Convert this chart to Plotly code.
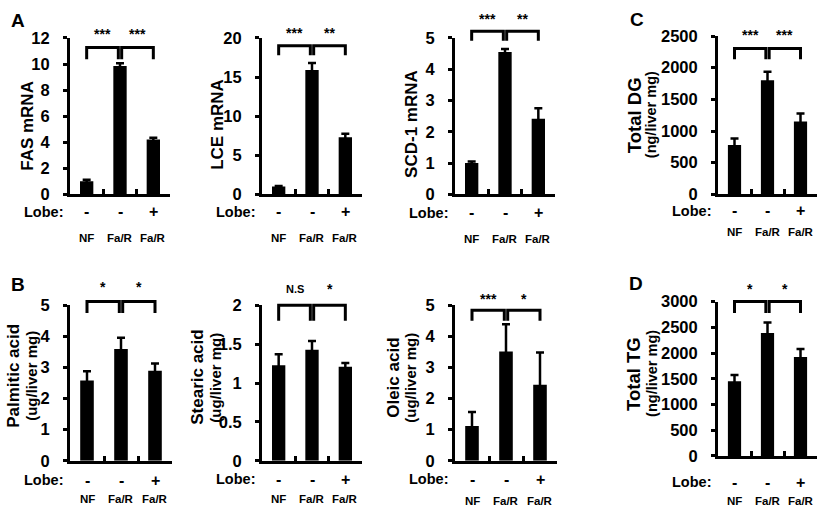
import plotly.graph_objects as go

# ------------------------------
# Data
# ------------------------------
GROUPS = ["NF", "Fa/R", "Fa/R"]
LOBE = ["-", "-", "+"]

FAS_MEAN = [1.0, 9.85, 4.2]
FAS_ERR = [0.12, 0.2, 0.15]
LCE_MEAN = [1.0, 15.9, 7.3]
LCE_ERR = [0.08, 0.9, 0.45]
SCD_MEAN = [1.0, 4.55, 2.42]
SCD_ERR = [0.05, 0.1, 0.33]
DG_MEAN = [780, 1800, 1150]
DG_ERR = [100, 135, 125]
PALM_MEAN = [2.58, 3.6, 2.9]
PALM_ERR = [0.3, 0.36, 0.23]
STEAR_MEAN = [1.23, 1.43, 1.21]
STEAR_ERR = [0.14, 0.11, 0.05]
OLEIC_MEAN = [1.12, 3.52, 2.45]
OLEIC_ERR = [0.45, 0.87, 1.03]
TG_MEAN = [1450, 2390, 1920]
TG_ERR = [125, 200, 160]

W, H = 822, 520
FONT = "Liberation Sans, Arial, sans-serif"

# panel: data, axis max, tick step, title lines (text, size, x px), stars, letter
# geometry in px: x0, x1, ytop, ybot, bracket top/bottom offsets, star offset,
#                 title y, lobe row y, group row y
PANELS = [
    dict(mean=FAS_MEAN, err=FAS_ERR, ymax=12, dtick=2,
         title=[("FAS mRNA", 17, 28)],
         stars=["***", "***"], letter="A",
         x0=70, x1=170, yt=30, yb=192, br=(10, 22), st=-4,
         ty=121, lobe_y=210, name_y=237),
    dict(mean=LCE_MEAN, err=LCE_ERR, ymax=20, dtick=5,
         title=[("LCE mRNA", 17, 218)],
         stars=["***", "**"], letter=None,
         x0=262, x1=362, yt=30, yb=192, br=(8, 18), st=-5,
         ty=120, lobe_y=210, name_y=237),
    dict(mean=SCD_MEAN, err=SCD_ERR, ymax=5, dtick=1,
         title=[("SCD-1 mRNA", 17, 412)],
         stars=["***", "**"], letter=None,
         x0=455, x1=555, yt=30, yb=192, br=(-7, 3), st=-20,
         ty=119, lobe_y=211, name_y=238),
    dict(mean=DG_MEAN, err=DG_ERR, ymax=2500, dtick=500,
         title=[("Total DG", 18.5, 634), ("(ng/liver mg)", 14.5, 651)],
         stars=["***", "***"], letter="C",
         x0=718, x1=817, yt=28, yb=192, br=(13, 24), st=-1,
         ty=110, lobe_y=209, name_y=231),
    dict(mean=PALM_MEAN, err=PALM_ERR, ymax=5, dtick=1,
         title=[("Palmitic acid", 17, 14), ("(ug/liver mg)", 15, 32)],
         stars=["*", "*"], letter="B",
         x0=70, x1=172, yt=307, yb=468, br=(-4, 8), st=-19,
         ty=380, lobe_y=488, name_y=508),
    dict(mean=STEAR_MEAN, err=STEAR_ERR, ymax=2, dtick=0.5,
         title=[("Stearic acid", 17, 198), ("(ug/liver mg)", 15, 216)],
         stars=["N.S", "*"], letter=None,
         x0=262, x1=362, yt=307, yb=468, br=(0, 16), st=-17,
         ty=382, lobe_y=487, name_y=508),
    dict(mean=OLEIC_MEAN, err=OLEIC_ERR, ymax=5, dtick=1,
         title=[("Oleic acid", 17, 394), ("(ug/liver mg)", 15, 411)],
         stars=["***", "*"], letter=None,
         x0=455, x1=557, yt=307, yb=468, br=(5, 16), st=-7,
         ty=382, lobe_y=487, name_y=510),
    dict(mean=TG_MEAN, err=TG_ERR, ymax=3000, dtick=500,
         title=[("Total TG", 18.5, 634), ("(ng/liver mg)", 14.5, 652)],
         stars=["*", "*"], letter="D",
         x0=718, x1=817, yt=303, yb=463, br=(0, 12), st=-13,
         ty=378, lobe_y=490, name_y=510),
]

BRACKETS = [(0.0, 0.95), (1.05, 2.0)]
XPOS = [0, 1, 2]
LETTER_POS = {"A": (18, 12), "B": (18, 285), "C": (637, 11), "D": (636, 284)}


def px_x(px):
    return px / W


def px_y(px):
    return 1 - px / H


fig = go.Figure()
shapes = []
annotations = []
layout_axes = {}

for i, p in enumerate(PANELS, start=1):
    xa = "x" if i == 1 else f"x{i}"
    ya = "y" if i == 1 else f"y{i}"
    h = p["yb"] - p["yt"]

    fig.add_trace(
        go.Bar(
            x=XPOS,
            y=p["mean"],
            width=0.4,
            marker=dict(color="black", line=dict(width=0)),
            error_y=dict(type="data", array=p["err"], color="black",
                         thickness=2.5, width=4),
            xaxis=xa,
            yaxis=ya,
            showlegend=False,
            hoverinfo="y",
        )
    )

    layout_axes[f"xaxis{i if i > 1 else ''}"] = dict(
        domain=[px_x(p["x0"]), px_x(p["x1"])],
        anchor=ya,
        range=[-0.5, 2.5],
        tickvals=[0.5, 1.5, 2.5],
        ticks="inside",
        ticklen=5,
        tickwidth=2.5,
        tickcolor="black",
        showticklabels=False,
        showline=True,
        linecolor="black",
        linewidth=3,
        showgrid=False,
        zeroline=False,
        fixedrange=True,
    )
    layout_axes[f"yaxis{i if i > 1 else ''}"] = dict(
        domain=[px_y(p["yb"]), px_y(p["yt"])],
        anchor=xa,
        range=[0, p["ymax"]],
        dtick=p["dtick"],
        tick0=0,
        ticks="outside",
        ticklen=4,
        tickwidth=2.5,
        tickcolor="black",
        ticklabelstandoff=10,
        tickfont=dict(size=16.5, color="black", family=FONT, weight="bold"),
        showline=True,
        linecolor="black",
        linewidth=3,
        showgrid=False,
        zeroline=False,
        fixedrange=True,
    )

    # significance brackets
    top = 1 - p["br"][0] / h
    bot = 1 - p["br"][1] / h
    for (bx0, bx1), star in zip(BRACKETS, p["stars"]):
        shapes.append(dict(
            type="path",
            xref=xa, yref=f"{ya} domain",
            path=f"M {bx0},{bot} L {bx0},{top} L {bx1},{top} L {bx1},{bot}",
            line=dict(color="black", width=3),
        ))
        annotations.append(dict(
            xref=xa, yref=f"{ya} domain",
            x=(bx0 + bx1) / 2, y=1 - p["st"] / h,
            text=star, showarrow=False,
            xanchor="center", yanchor="middle",
            font=dict(size=14 if star != "N.S" else 11, color="black"),
        ))

    # y title lines (rotated)
    for text, size, tx in p["title"]:
        annotations.append(dict(
            xref="paper", yref="paper",
            x=px_x(tx), y=px_y(p["ty"]),
            text=text, textangle=-90, showarrow=False,
            xanchor="center", yanchor="middle",
            font=dict(size=size, color="black"),
        ))

    # Lobe row and group names
    annotations.append(dict(
        xref=xa, yref="paper", x=-0.5, xshift=-5, y=px_y(p["lobe_y"]),
        text="Lobe:", showarrow=False, xanchor="right", yanchor="middle",
        font=dict(size=14.5, color="black"),
    ))
    for xv, lb, gname in zip(XPOS, LOBE, GROUPS):
        annotations.append(dict(
            xref=xa, yref="paper", x=xv, y=px_y(p["lobe_y"]),
            text=lb, showarrow=False, xanchor="center", yanchor="middle",
            font=dict(size=16, color="black"),
        ))
        annotations.append(dict(
            xref=xa, yref="paper", x=xv, y=px_y(p["name_y"]),
            text=gname, showarrow=False, xanchor="center", yanchor="middle",
            font=dict(size=11.5, color="black"),
        ))

    if p["letter"]:
        lx, ly = LETTER_POS[p["letter"]]
        annotations.append(dict(
            xref="paper", yref="paper", x=px_x(lx), y=px_y(ly),
            text=p["letter"], showarrow=False,
            xanchor="center", yanchor="middle",
            font=dict(size=19, color="black"),
        ))

fig.update_layout(
    width=W,
    height=H,
    margin=dict(l=0, r=0, t=0, b=0),
    plot_bgcolor="white",
    paper_bgcolor="white",
    font=dict(family=FONT, color="black", weight="bold"),
    bargap=0.6,
    shapes=shapes,
    annotations=annotations,
    **layout_axes,
)

# page body has a default 8px margin; drop it so the figure sits at 0,0
fig.write_html(
    "out.html",
    config={"displayModeBar": False},
    post_script="document.body.style.margin='0px';",
)
